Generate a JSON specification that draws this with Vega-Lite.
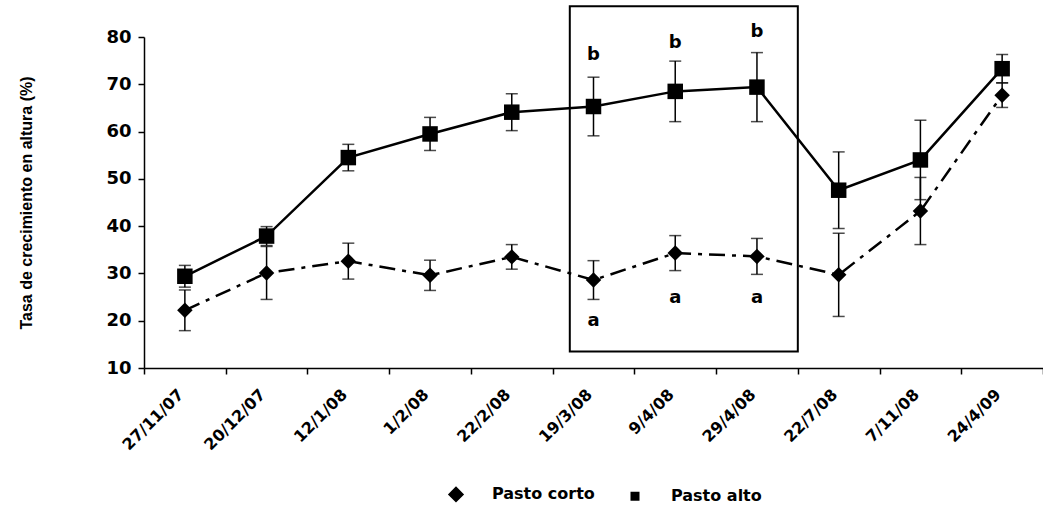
{
  "$schema": "https://vega.github.io/schema/vega-lite/v6.json",
  "width": 899,
  "height": 331,
  "autosize": "none",
  "padding": {"left": 144, "top": 37, "right": 0, "bottom": 140},
  "background": "white",
  "config": {
    "view": {"stroke": null},
    "font": "DejaVu Sans",
    "axis": {
      "grid": false,
      "domainColor": "black",
      "domainWidth": 1.5,
      "tickColor": "black",
      "tickWidth": 1.5,
      "tickSize": 6,
      "labelColor": "black",
      "labelFont": "DejaVu Sans",
      "labelFontWeight": "bold",
      "titleColor": "black"
    }
  },
  "datasets": {
    "medias": [
      {"fecha": "27/11/07", "serie": "Pasto corto", "media": 22.2, "ee": 4.3},
      {"fecha": "20/12/07", "serie": "Pasto corto", "media": 30.1, "ee": 5.6},
      {"fecha": "12/1/08", "serie": "Pasto corto", "media": 32.6, "ee": 3.8},
      {"fecha": "1/2/08", "serie": "Pasto corto", "media": 29.6, "ee": 3.2},
      {"fecha": "22/2/08", "serie": "Pasto corto", "media": 33.5, "ee": 2.6},
      {"fecha": "19/3/08", "serie": "Pasto corto", "media": 28.6, "ee": 4.1},
      {"fecha": "9/4/08", "serie": "Pasto corto", "media": 34.3, "ee": 3.7},
      {"fecha": "29/4/08", "serie": "Pasto corto", "media": 33.6, "ee": 3.8},
      {"fecha": "22/7/08", "serie": "Pasto corto", "media": 29.7, "ee": 8.8},
      {"fecha": "7/11/08", "serie": "Pasto corto", "media": 43.2, "ee": 7.1},
      {"fecha": "24/4/09", "serie": "Pasto corto", "media": 67.7, "ee": 2.6},
      {"fecha": "27/11/07", "serie": "Pasto alto", "media": 29.4, "ee": 2.3},
      {"fecha": "20/12/07", "serie": "Pasto alto", "media": 37.9, "ee": 2.0},
      {"fecha": "12/1/08", "serie": "Pasto alto", "media": 54.5, "ee": 2.8},
      {"fecha": "1/2/08", "serie": "Pasto alto", "media": 59.5, "ee": 3.5},
      {"fecha": "22/2/08", "serie": "Pasto alto", "media": 64.1, "ee": 3.9},
      {"fecha": "19/3/08", "serie": "Pasto alto", "media": 65.3, "ee": 6.2},
      {"fecha": "9/4/08", "serie": "Pasto alto", "media": 68.5, "ee": 6.4},
      {"fecha": "29/4/08", "serie": "Pasto alto", "media": 69.4, "ee": 7.3},
      {"fecha": "22/7/08", "serie": "Pasto alto", "media": 47.6, "ee": 8.1},
      {"fecha": "7/11/08", "serie": "Pasto alto", "media": 54.0, "ee": 8.4},
      {"fecha": "24/4/09", "serie": "Pasto alto", "media": 73.3, "ee": 3.0}
    ],
    "letras": [
      {"fecha": "19/3/08", "letra": "b", "media": 76.2},
      {"fecha": "9/4/08", "letra": "b", "media": 78.7},
      {"fecha": "29/4/08", "letra": "b", "media": 81.0},
      {"fecha": "19/3/08", "letra": "a", "media": 20.0},
      {"fecha": "9/4/08", "letra": "a", "media": 24.9},
      {"fecha": "29/4/08", "letra": "a", "media": 24.9}
    ],
    "recuadro": [
      {"desde": "19/3/08", "hasta": "29/4/08", "inf": 13.5, "sup": 86.5}
    ]
  },
  "encoding": {
    "x": {
      "field": "fecha",
      "type": "ordinal",
      "scale": {
        "domain": ["27/11/07", "20/12/07", "12/1/08", "1/2/08", "22/2/08", "19/3/08", "9/4/08", "29/4/08", "22/7/08", "7/11/08", "24/4/09"],
        "paddingInner": 0,
        "paddingOuter": 0
      },
      "axis": {
        "title": null,
        "tickBand": "extent",
        "labelAngle": -45,
        "labelAlign": "right",
        "labelBaseline": "top",
        "labelFontSize": 16,
        "labelPadding": 12,
        "labelOffset": -10
      }
    }
  },
  "layer": [
    {
      "data": {"name": "recuadro"},
      "mark": {"type": "rect", "fill": null, "stroke": "black", "strokeWidth": 2},
      "encoding": {
        "x": {"field": "desde", "type": "ordinal", "bandPosition": 0.21},
        "x2": {"field": "hasta", "bandPosition": 1},
        "y": {"field": "inf", "type": "quantitative"},
        "y2": {"field": "sup"}
      }
    },
    {
      "data": {"name": "medias"},
      "mark": {
        "type": "errorbar",
        "ticks": {"size": 12, "thickness": 1.5, "color": "black"},
        "rule": {"strokeWidth": 1.5, "color": "black"}
      },
      "encoding": {
        "y": {
          "field": "media",
          "type": "quantitative",
          "scale": {"domain": [10, 80], "nice": false, "zero": false},
          "axis": {
            "title": "Tasa de crecimiento en altura (%)",
            "values": [10, 20, 30, 40, 50, 60, 70, 80],
            "labelFontSize": 18,
            "labelPadding": 7,
            "titleFont": "Liberation Sans",
            "titleFontSize": 16,
            "titleFontWeight": "bold",
            "titleX": -110,
            "titleBaseline": "bottom"
          }
        },
        "yError": {"field": "ee"},
        "detail": {"field": "serie"}
      }
    },
    {
      "data": {"name": "medias"},
      "transform": [{"filter": "datum.serie === 'Pasto corto'"}],
      "mark": {"type": "line", "color": "black", "strokeWidth": 2.5, "strokeDash": [16, 7, 4, 7]},
      "encoding": {
        "y": {"field": "media", "type": "quantitative"},
        "order": {"value": null}
      }
    },
    {
      "data": {"name": "medias"},
      "transform": [{"filter": "datum.serie === 'Pasto alto'"}],
      "mark": {"type": "line", "color": "black", "strokeWidth": 2.5},
      "encoding": {
        "y": {"field": "media", "type": "quantitative"},
        "order": {"value": null}
      }
    },
    {
      "data": {"name": "medias"},
      "mark": {"type": "point", "filled": true, "color": "black", "opacity": 1, "size": 240},
      "encoding": {
        "y": {"field": "media", "type": "quantitative"},
        "shape": {
          "field": "serie",
          "type": "nominal",
          "scale": {"domain": ["Pasto corto", "Pasto alto"], "range": ["diamond", "square"]},
          "legend": null
        }
      }
    },
    {
      "data": {"name": "medias"},
      "transform": [{"filter": "false"}],
      "mark": {"type": "point", "filled": false, "color": "black", "fill": "black", "stroke": "black", "strokeWidth": 2, "opacity": 1},
      "encoding": {
        "y": {"field": "media", "type": "quantitative"},
        "shape": {
          "field": "serie",
          "type": "nominal",
          "scale": {
            "domain": ["Pasto corto", "Pasto alto"],
            "range": [
              "M-1,0H-0.27M0.67,0H0.93M-0.27,0L0,-0.27L0.27,0L0,0.27Z",
              "M-1,0H1M-0.15,-0.15H0.15V0.15H-0.15Z"
            ]
          },
          "legend": {
            "title": null,
            "orient": "none",
            "direction": "horizontal",
            "legendX": 281,
            "legendY": 426,
            "padding": 0,
            "symbolSize": 3600,
            "symbolFillColor": "black",
            "symbolStrokeColor": "black",
            "symbolStrokeWidth": 2,
            "symbolOpacity": 1,
            "labelFont": "DejaVu Sans",
            "labelFontSize": 16,
            "labelFontWeight": "bold",
            "labelColor": "black",
            "labelOffset": 5,
            "columnPadding": 6,
            "encode": {
              "symbols": {
                "update": {
                  "fill": {"value": "black"},
                  "stroke": {"value": "black"},
                  "strokeWidth": {"value": 2}
                }
              }
            }
          }
        }
      }
    },
    {
      "data": {"name": "letras"},
      "mark": {"type": "text", "font": "DejaVu Sans", "fontSize": 18, "fontWeight": "bold", "color": "black", "baseline": "middle"},
      "encoding": {
        "y": {"field": "media", "type": "quantitative"},
        "text": {"field": "letra"}
      }
    }
  ],
  "resolve": {"scale": {"shape": "independent"}, "legend": {"shape": "independent"}}
}
